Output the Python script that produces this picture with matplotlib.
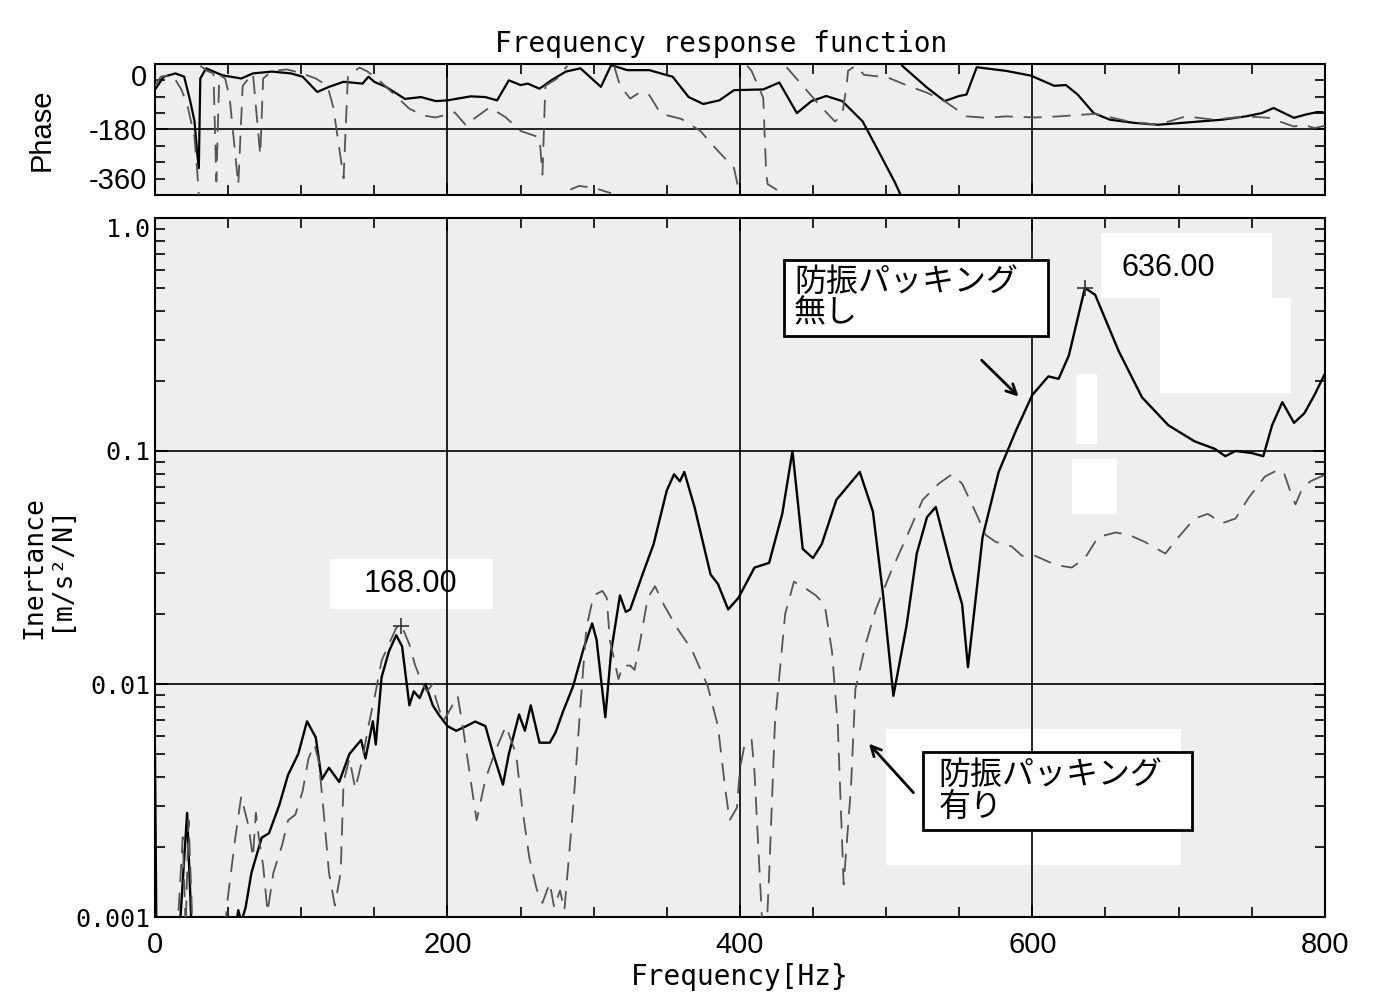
"""Frequency response function: phase + inertance, with / without anti-vibration packing."""

import matplotlib

matplotlib.use("Agg")
import matplotlib.pyplot as plt
import numpy as np
from matplotlib.patches import Rectangle
from matplotlib.ticker import FixedLocator, LogLocator, NullFormatter

plt.rcParams["font.family"] = ["Liberation Sans", "DejaVu Sans"]
plt.rcParams["axes.unicode_minus"] = False  # scan uses a plain hyphen

NAN = np.nan

# ---- data -------------------------------------------------------------------
# phase [deg], (freq Hz, phase); NaN pairs break the line where it wraps
SOLID_PHASE = [
    (0, -70), (1.3, -63), (6, -35), (14, -26), (20, -35), (24, -100), (27, -156), (29, -250),
    (30, -286), (31, -40), (35, -12), (46, -31), (59, -40), (67, -26), (80, -21), (93, -26),
    (101, -35), (111, -77), (119, -63), (129, -49), (142, -54), (146, -35), (150, -49),
    (158, -63), (171, -96), (182, -91), (192, -102), (200, -100), (216, -89), (226, -91),
    (234, -100), (242, -45), (250, -58), (255, -54), (263, -68), (271, -45), (281, -21),
    (291, -12), (305, -63), (312, -3), (323, -17), (338, -17), (354, -35), (365, -91),
    (375, -110), (386, -100), (396, -72), (416, -70), (427, -51), (439, -135), (449, -102),
    (459, -88), (470, -102), (484, -158), (495, -241), (506, -325), (510, -360), (NAN, NAN),
    (511, -5), (528, -65), (540, -102), (550, -88), (555, -84), (562, -9), (582, -19),
    (599, -32), (615, -60), (623, -58), (631, -84), (642, -135), (653, -153), (670, -162),
    (686, -167), (705, -161), (730, -153), (746, -144), (757, -135), (765, -121), (779, -148),
    (787, -139), (795, -132), (800, -133),
]
DASHED_PHASE = [
    (0, -60), (4, -35), (12, -30), (18, -70), (22, -110), (27, -200), (29, -300), (30, -360),
    (NAN, NAN),
    (31, -5), (36, -20), (40, -26), (42, -323), (44, -30), (48, -40), (51, -90), (57, -332),
    (60, -60), (64, -40), (67, -26), (72, -250), (74, -40), (80, -20), (90, -15), (100, -25),
    (110, -40), (118, -60), (122, -120), (129, -314), (132, -30), (140, -10), (145, -20),
    (152, -40), (160, -70), (174, -123), (184, -142), (192, -147), (205, -133), (213, -170),
    (218, -151), (229, -119), (240, -147), (250, -184), (263, -202), (265, -304), (267, -60),
    (275, -40), (282, -5), (NAN, NAN),
    (284, -345), (290, -335), (300, -340), (312, -355), (NAN, NAN),
    (314, -5), (318, -60), (325, -95), (332, -77), (338, -85), (346, -137), (360, -151),
    (373, -184), (383, -230), (396, -286), (400, -360), (NAN, NAN),
    (405, -5), (408, -19), (416, -93), (418, -300), (419, -330), (425, -345), (430, -360),
    (NAN, NAN),
    (432, -9), (443, -60), (454, -111), (465, -158), (470, -140), (473, -60), (474, -19),
    (479, -5), (485, -30), (501, -37), (515, -60), (528, -79), (540, -102), (555, -144),
    (569, -148), (582, -144), (602, -147), (618, -144), (643, -137), (666, -158), (686, -167),
    (705, -144), (724, -153), (746, -144), (762, -148), (779, -172), (785, -167), (793, -176),
    (800, -170),
]

# inertance [m/s^2/N], (freq Hz, value); values under 0.001 run off the axis
SOLID_MAG = [
    (0, 0.0052), (1, 0.0008), (15, 0.0008), (17, 0.0009), (22, 0.0028), (25, 0.0009),
    (27, 0.0008), (54, 0.0008), (57, 0.00107), (59, 0.00095), (62, 0.0011), (66, 0.00155),
    (73, 0.00219), (78, 0.00229), (85, 0.00302), (91, 0.00407), (98, 0.00501), (104, 0.00692),
    (110, 0.00589), (114, 0.00389), (119, 0.00437), (126, 0.0038), (133, 0.00501),
    (141, 0.00575), (144, 0.00479), (149, 0.00692), (151, 0.0055), (155, 0.0107), (160, 0.0138),
    (165, 0.0162), (169, 0.0145), (174, 0.0081), (177, 0.0093), (181, 0.0087), (185, 0.0100),
    (190, 0.0081), (194, 0.0074), (200, 0.0066), (206, 0.0063), (213, 0.0066), (219, 0.0069),
    (226, 0.0066), (231, 0.0051), (238, 0.0037), (242, 0.0050), (249, 0.0074), (253, 0.0063),
    (257, 0.0081), (263, 0.0056), (270, 0.0056), (274, 0.0062), (279, 0.0076), (286, 0.0098),
    (293, 0.0141), (299, 0.0182), (302, 0.0155), (308, 0.0072), (312, 0.0138), (318, 0.024),
    (322, 0.0204), (325, 0.0209), (334, 0.0302), (341, 0.0398), (350, 0.0676), (355, 0.0794),
    (359, 0.0741), (362, 0.0813), (369, 0.0575), (380, 0.0295), (385, 0.0269), (392, 0.0209),
    (399, 0.0234), (410, 0.0316), (420, 0.0331), (429, 0.0537), (436, 0.100), (443, 0.038),
    (450, 0.0347), (456, 0.0398), (466, 0.0617), (470, 0.0661), (482, 0.0813), (491, 0.055),
    (498, 0.024), (505, 0.0089), (514, 0.0178), (521, 0.0363), (528, 0.052), (534, 0.0575),
    (545, 0.031), (552, 0.022), (556, 0.0118), (566, 0.0427), (577, 0.0813), (589, 0.123),
    (600, 0.174), (611, 0.209), (618, 0.204), (625, 0.257), (636, 0.501), (643, 0.468),
    (659, 0.269), (675, 0.170), (693, 0.129), (711, 0.110), (725, 0.102), (732, 0.095),
    (739, 0.100), (750, 0.098), (758, 0.095), (764, 0.129), (771, 0.162), (779, 0.132),
    (786, 0.145), (793, 0.174), (800, 0.214),
]
DASHED_MAG = [
    (15, 0.0008), (19, 0.0022), (21, 0.0009), (23, 0.0026), (26, 0.0008),
    (48, 0.0008), (49, 0.0011), (55, 0.0022), (59, 0.0033), (64, 0.00245), (67, 0.0018),
    (69, 0.0028), (71, 0.0022), (74, 0.00166), (77, 0.00105), (81, 0.00155), (87, 0.00204),
    (91, 0.0026), (96, 0.00275), (101, 0.00347), (105, 0.00479), (109, 0.0055), (112, 0.00468),
    (115, 0.0030), (119, 0.00155), (123, 0.00112), (127, 0.00155), (129, 0.0038), (133, 0.00479),
    (137, 0.00355), (142, 0.00479), (146, 0.0066), (151, 0.0093), (155, 0.0126), (160, 0.0148),
    (165, 0.0174), (168, 0.0182), (174, 0.0148), (178, 0.012), (183, 0.0100), (186, 0.0093),
    (190, 0.0100), (192, 0.0087), (197, 0.0069), (201, 0.0076), (207, 0.0089), (211, 0.0063),
    (217, 0.00347), (220, 0.0026), (226, 0.0039), (233, 0.0052), (240, 0.0066), (247, 0.0050),
    (251, 0.0030), (256, 0.0018), (261, 0.00132), (265, 0.00115), (270, 0.0014), (273, 0.0011),
    (277, 0.0013), (280, 0.00107), (286, 0.00295), (291, 0.0081), (295, 0.0174), (300, 0.024),
    (306, 0.0251), (309, 0.0234), (311, 0.0155), (317, 0.0105), (320, 0.012), (325, 0.012),
    (328, 0.0115), (332, 0.0155), (337, 0.0234), (342, 0.0263), (348, 0.0219), (357, 0.0174),
    (367, 0.0141), (378, 0.0098), (385, 0.0066), (390, 0.00355), (393, 0.0026), (398, 0.00295),
    (400, 0.0043), (403, 0.0054), (408, 0.0058), (410, 0.0042), (415, 0.00102), (416, 0.0008),
    (418, 0.0008), (420, 0.0015), (424, 0.0068), (431, 0.020), (437, 0.0275), (445, 0.0257),
    (452, 0.024), (458, 0.0219), (463, 0.0138), (467, 0.0066), (471, 0.00138), (476, 0.0036),
    (479, 0.0095), (486, 0.0148), (493, 0.0209), (503, 0.030), (514, 0.0427), (525, 0.0617),
    (536, 0.0724), (545, 0.0794), (552, 0.0724), (561, 0.055), (568, 0.0437), (575, 0.0407),
    (586, 0.0389), (593, 0.0355), (602, 0.0355), (616, 0.0324), (627, 0.0316), (636, 0.0347),
    (645, 0.0427), (657, 0.0447), (666, 0.0437), (677, 0.0407), (691, 0.0363), (700, 0.0427),
    (711, 0.0513), (720, 0.0537), (730, 0.049), (739, 0.0513), (748, 0.063), (759, 0.0776),
    (768, 0.083), (772, 0.081), (777, 0.0655), (780, 0.059), (784, 0.0676), (790, 0.074),
    (800, 0.079),
]

PEAKS = [(168, 0.0178), (636, 0.50)]
PEAK_LABELS = ["168.00", "636.00"]

X_TICKS = [0, 200, 400, 600, 800]
PHASE_TICKS = [0, -180, -360]
MAG_TICKS = [0.001, 0.01, 0.1, 1.0]
MAG_TICK_LABELS = ["0.001", "0.01", "0.1", "1.0"]

LABEL_NO = "防振パッキング\n無し"
LABEL_YES = "防振パッキング\n有り"

# ---- figure -----------------------------------------------------------------
BG = "#eeeeee"
DASH_C = "#555555"
fig = plt.figure(figsize=(13.86, 9.93), dpi=100)
ax_p = fig.add_axes([0.1118, 0.8036, 0.844, 0.132], facecolor=BG)
ax_m = fig.add_axes([0.1118, 0.0765, 0.844, 0.704], facecolor=BG)

sf, sp = np.array(SOLID_PHASE).T
df, dp = np.array(DASHED_PHASE).T
ax_p.plot(sf, sp, color="black", lw=1.6, zorder=3)
ax_p.plot(df, dp, color=DASH_C, lw=1.3, dashes=(10, 6), zorder=3)

mf, mv = np.array(SOLID_MAG).T
nf, nv = np.array(DASHED_MAG).T
ax_m.plot(mf, mv, color="black", lw=1.7, zorder=3)
ax_m.plot(nf, nv, color=DASH_C, lw=1.3, dashes=(10, 6), zorder=3)
ax_m.set_yscale("log")

for ax in (ax_p, ax_m):
    ax.set_xlim(0, 800)
    ax.set_xticks(X_TICKS)
    ax.xaxis.set_minor_locator(FixedLocator(np.arange(0, 801, 50)))
    ax.tick_params(which="both", direction="in", top=True, right=True, width=1.2)
    ax.tick_params(which="major", length=9)
    ax.tick_params(which="minor", length=7)
    for s in ax.spines.values():
        s.set_linewidth(1.5)
    for f in X_TICKS[1:-1]:
        ax.axvline(f, color="black", lw=1.2, zorder=2)

ax_p.set_ylim(-360, 0)
ax_p.set_yticks(PHASE_TICKS)
ax_p.yaxis.set_minor_locator(FixedLocator(np.arange(-360, 1, 45)))
ax_p.set_xticklabels([])
ax_p.axhline(-180, color="black", lw=1.2, zorder=2)
ax_p.tick_params(axis="y", labelsize=21, pad=6)
ax_p.set_ylabel("Phase", fontsize=21)
ax_p.yaxis.set_label_coords(-0.085, 0.5)
# end labels sit inside the panel height, as on the scan
ph_ticks = ax_p.yaxis.get_major_ticks()
ph_ticks[0].label1.set_va("top")       # 0
ph_ticks[-1].label1.set_va("bottom")   # -360

ax_m.set_ylim(0.001, 1.0)
ax_m.set_yticks(MAG_TICKS)
ax_m.set_yticklabels(MAG_TICK_LABELS, family="DejaVu Sans Mono", fontsize=18)
ax_m.yaxis.set_minor_locator(LogLocator(base=10, subs=np.arange(2, 10)))
ax_m.yaxis.set_minor_formatter(NullFormatter())
ax_m.tick_params(axis="x", labelsize=21, pad=10)
ax_m.tick_params(axis="y", pad=3)
ax_m.yaxis.get_major_ticks()[-1].label1.set_va("top")  # 1.0
for v in MAG_TICKS[1:-1]:
    ax_m.axhline(v, color="black", lw=1.2, zorder=2)
ax_m.set_ylabel("Inertance\n[m/s²/N]", family="DejaVu Sans Mono", fontsize=19, linespacing=1.0)
ax_m.yaxis.set_label_coords(-0.07, 0.5)

fig.text(0.52, 0.956, "Frequency response function", family="DejaVu Sans Mono",
         fontsize=20, ha="center", va="center")
fig.text(0.534, 0.016, "Frequency[Hz}", family="DejaVu Sans Mono",
         fontsize=20, ha="center", va="center")

# white patches left on the scan around the labels
for (f0, f1, v0, v1) in [(120, 231, 0.0209, 0.0344), (647, 764, 0.453, 0.861),
                         (687, 777, 0.177, 0.453), (630, 644, 0.107, 0.215),
                         (627, 658, 0.0537, 0.0927), (500, 702, 0.00167, 0.00638)]:
    ax_m.add_patch(Rectangle((f0, v0), f1 - f0, v1 - v0, facecolor="white",
                             edgecolor="none", zorder=1))

# peak markers
pk_f, pk_v = np.array(PEAKS).T
ax_m.plot(pk_f, pk_v, ls="none", marker="+", ms=11, mew=1.2, color="#333333", zorder=4)
ax_m.text(175, 0.0268, PEAK_LABELS[0], fontsize=22, ha="center", va="center", zorder=5)
ax_m.text(693, 0.61, PEAK_LABELS[1], fontsize=22, ha="center", va="center", zorder=5)

# callout boxes
jp = ["Noto Sans CJK JP", "DejaVu Sans"]
ax_m.add_patch(Rectangle((430, 0.313), 181, 0.659 - 0.313, facecolor="white",
                         edgecolor="black", lw=2, zorder=5))
ax_m.text(437, 0.455, LABEL_NO, family=jp, fontsize=23, ha="left", va="center",
          linespacing=1.0, zorder=6)
ax_m.annotate("", xy=(592, 0.168), xytext=(564, 0.25),
              arrowprops=dict(arrowstyle="->", color="black", lw=2, mutation_scale=18), zorder=6)

ax_m.add_patch(Rectangle((525, 0.00237), 184, 0.00513 - 0.00237, facecolor="white",
                         edgecolor="black", lw=2, zorder=5))
ax_m.text(536, 0.00348, LABEL_YES, family=jp, fontsize=23, ha="left", va="center",
          linespacing=1.0, zorder=6)
ax_m.annotate("", xy=(487, 0.00566), xytext=(520, 0.00335),
              arrowprops=dict(arrowstyle="->", color="black", lw=2, mutation_scale=18), zorder=6)

fig.savefig("out.png", dpi=100, facecolor="white")
